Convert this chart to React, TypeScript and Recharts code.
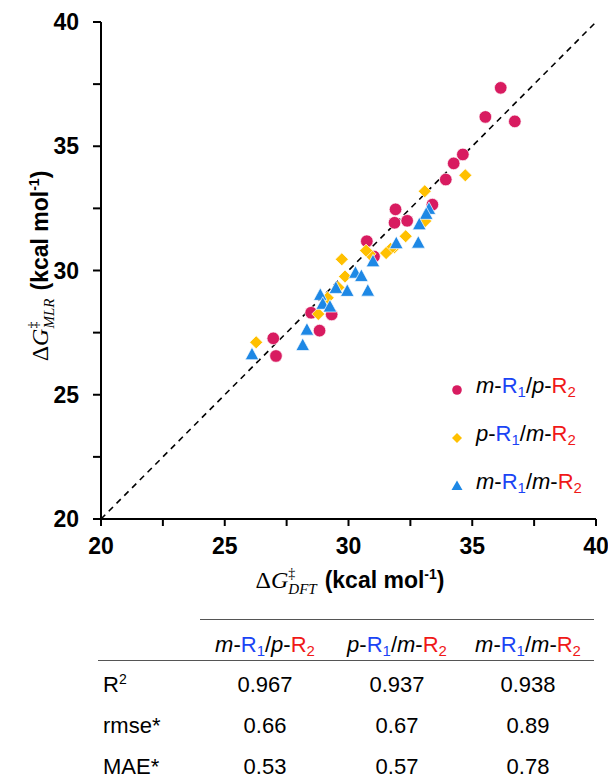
import React from "react";
import {
  ReferenceLine,
  Scatter,
  ScatterChart,
  XAxis,
  YAxis,
} from "recharts";

// m-R1/p-R2 (circles)
const MP_DFT = [36.15, 35.53, 36.72, 34.62, 34.25, 33.93, 33.39, 31.9, 31.86, 32.37, 30.74, 31.03, 28.49, 29.32, 28.83, 26.96, 27.07];
const MP_MLR = [37.35, 36.18, 36.0, 34.67, 34.31, 33.66, 32.65, 32.46, 31.92, 32.0, 31.18, 30.56, 28.3, 28.23, 27.58, 27.27, 26.56];

// p-R1/m-R2 (diamonds)
const PM_DFT = [34.72, 33.08, 33.1, 32.31, 31.86, 31.7, 31.52, 30.85, 30.71, 29.73, 29.86, 29.59, 29.16, 28.78, 26.27];
const PM_MLR = [33.83, 33.19, 31.99, 31.38, 30.94, 30.87, 30.7, 30.67, 30.8, 30.45, 29.76, 29.32, 28.9, 28.25, 27.11];

// m-R1/m-R2 (triangles)
const MM_DFT = [33.25, 33.14, 32.86, 32.82, 31.93, 30.99, 30.28, 30.52, 29.49, 29.95, 30.78, 28.86, 28.96, 29.25, 28.32, 28.15, 26.1];
const MM_MLR = [32.46, 32.26, 31.84, 31.1, 31.08, 30.35, 29.89, 29.76, 29.28, 29.16, 29.17, 29.0, 28.64, 28.53, 27.6, 26.98, 26.61];

const TICKS = [20, 22.5, 25, 27.5, 30, 32.5, 35, 37.5, 40];

const GROUPS = [
  { m1: "m", m2: "p" },
  { m1: "p", m2: "m" },
  { m1: "m", m2: "m" },
];
const ROW_LABELS = ["R", "rmse*", "MAE*"];
const R2 = ["0.967", "0.937", "0.938"];
const RMSE = ["0.66", "0.67", "0.89"];
const MAE = ["0.53", "0.57", "0.78"];

const RED = "#D81B60";
const GOLD = "#FFC000";
const BLUE = "#1E88E5";
const R1_COLOR = "#1A44F5";
const R2_COLOR = "#F01818";
const SANS = '"Liberation Sans", Arial, sans-serif';
const SERIF = '"Liberation Serif", "Times New Roman", serif';

const zip = (xs: number[], ys: number[]) => xs.map((x, i) => ({ x, y: ys[i] }));

const circle = (p: any) => <circle cx={p.cx} cy={p.cy} r={6.3} fill={RED} stroke="#fff" strokeWidth={0.7} />;
const diamond = (p: any) => (
  <polygon
    points={`${p.cx},${p.cy - 6.5} ${p.cx + 6.5},${p.cy} ${p.cx},${p.cy + 6.5} ${p.cx - 6.5},${p.cy}`}
    fill={GOLD}
    stroke="#fff"
    strokeWidth={0.7}
  />
);
const triangle = (p: any) => (
  <polygon
    points={`${p.cx},${p.cy - 7.5} ${p.cx + 6.8},${p.cy + 5} ${p.cx - 6.8},${p.cy + 5}`}
    fill={BLUE}
    stroke="#fff"
    strokeWidth={0.7}
  />
);

function Name({ m1, m2 }: { m1: string; m2: string }) {
  const sub = { fontSize: "68%", verticalAlign: "-0.3em", lineHeight: 0 } as const;
  return (
    <span style={{ whiteSpace: "nowrap" }}>
      <i>{m1}</i>-<span style={{ color: R1_COLOR }}>R<span style={sub}>1</span></span>/<i>{m2}</i>-
      <span style={{ color: R2_COLOR }}>R<span style={sub}>2</span></span>
    </span>
  );
}

function LegendBox() {
  const marks = [
    <svg width={14} height={14}><circle cx={7} cy={7} r={4.8} fill={RED} /></svg>,
    <svg width={14} height={14}><polygon points="7,2 12,7 7,12 2,7" fill={GOLD} /></svg>,
    <svg width={14} height={14}><polygon points="7,1.5 12.5,11 1.5,11" fill={BLUE} /></svg>,
  ];
  return (
    <div style={{ position: "absolute", left: 450, top: 362, fontFamily: SANS, fontSize: 22, lineHeight: "22px" }}>
      {GROUPS.map((g, i) => (
        <div key={i} style={{ display: "flex", alignItems: "center", height: 48 }}>
          <div style={{ width: 26, height: 14 }}>{marks[i]}</div>
          <Name m1={g.m1} m2={g.m2} />
        </div>
      ))}
    </div>
  );
}

function AxisTitle({ x, y, sub, rotate }: { x: number; y: number; sub: string; rotate?: boolean }) {
  return (
    <text transform={`translate(${x},${y})${rotate ? " rotate(-90)" : ""}`} textAnchor="middle" fill="#000">
      <tspan fontFamily={SERIF} fontSize={24}>Δ</tspan>
      <tspan fontFamily={SERIF} fontSize={24} fontStyle="italic">G</tspan>
      <tspan fontFamily={SERIF} fontSize={14} dy={-10}>‡</tspan>
      <tspan fontFamily={SERIF} fontSize={15} fontStyle="italic" dx={-7} dy={16}>{sub}</tspan>
      <tspan fontFamily={SANS} fontSize={23} fontWeight="bold" dx={8} dy={-6}>(kcal mol</tspan>
      <tspan fontFamily={SANS} fontSize={14} fontWeight="bold" dy={-9}>-1</tspan>
      <tspan fontFamily={SANS} fontSize={23} fontWeight="bold" dy={9}>)</tspan>
    </text>
  );
}

const tickStyle = { fontFamily: SANS, fontSize: 23, fontWeight: "bold", fill: "#000" };
const fmt = (v: number) => (v % 5 === 0 ? String(v) : "");

export default function App() {
  const cols = [265, 397, 528];
  const rows = [R2, RMSE, MAE];
  const rowY = [685, 726, 767];
  return (
    <div style={{ position: "absolute", left: 0, top: 0, width: 608, height: 781, background: "#fff", fontFamily: SANS }}>
      <ScatterChart width={608} height={600} margin={{ top: 22, right: 12, left: 41, bottom: 51 }}>
        <XAxis
          type="number"
          dataKey="x"
          domain={[20, 40]}
          ticks={TICKS}
          tickFormatter={fmt}
          tick={tickStyle}
          tickSize={7}
          tickMargin={12}
          height={30}
          stroke="#000"
          strokeWidth={2}
          interval={0}
          label={() => <AxisTitle x={350} y={588} sub="DFT" />}
        />
        <YAxis
          type="number"
          dataKey="y"
          domain={[20, 40]}
          ticks={TICKS}
          tickFormatter={fmt}
          tick={tickStyle}
          tickSize={8}
          tickMargin={14}
          width={60}
          stroke="#000"
          strokeWidth={2}
          interval={0}
          label={() => <AxisTitle x={48} y={266} sub="MLR" rotate />}
        />
        <ReferenceLine
          segment={[{ x: 20, y: 20 }, { x: 40, y: 40 }]}
          stroke="#000"
          strokeWidth={1.6}
          strokeDasharray="6 5"
        />
        <Scatter data={zip(MP_DFT, MP_MLR)} shape={circle} isAnimationActive={false} />
        <Scatter data={zip(PM_DFT, PM_MLR)} shape={diamond} isAnimationActive={false} />
        <Scatter data={zip(MM_DFT, MM_MLR)} shape={triangle} isAnimationActive={false} />
      </ScatterChart>
      <LegendBox />

      <div style={{ position: "absolute", left: 200, top: 619, width: 394, height: 0, borderTop: "1.5px solid #555" }} />
      <div style={{ position: "absolute", left: 98, top: 660, width: 496, height: 0, borderTop: "1.5px solid #555" }} />
      {GROUPS.map((g, i) => (
        <div key={i} style={{ position: "absolute", left: cols[i] - 70, top: 634, width: 140, textAlign: "center", fontSize: 22, lineHeight: "22px" }}>
          <Name m1={g.m1} m2={g.m2} />
        </div>
      ))}
      {ROW_LABELS.map((r, j) => (
        <div key={r} style={{ position: "absolute", left: 103, top: rowY[j] - 11, fontSize: 22, lineHeight: "22px" }}>
          {r}
          {j === 0 && <span style={{ fontSize: 14, verticalAlign: "0.55em", lineHeight: 0 }}>2</span>}
        </div>
      ))}
      {rows.map((vals, j) =>
        vals.map((v, i) => (
          <div key={`${j}-${i}`} style={{ position: "absolute", left: cols[i] - 60, top: rowY[j] - 11, width: 120, textAlign: "center", fontSize: 22, lineHeight: "22px" }}>
            {v}
          </div>
        ))
      )}
    </div>
  );
}
